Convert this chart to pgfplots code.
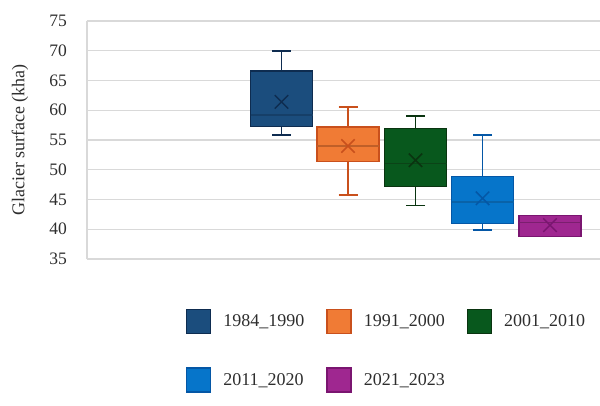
\documentclass[border=0pt]{standalone}
\usepackage{pgfplots}
\pgfplotsset{compat=1.18}
\usepgfplotslibrary{statistics}
\usepackage{fontspec}
\setmainfont{Liberation Serif}
\definecolor{fA}{HTML}{1B4D7D}\definecolor{bA}{HTML}{0E2C50}\definecolor{mA}{HTML}{163F68}
\definecolor{fB}{HTML}{F07B35}\definecolor{bB}{HTML}{C9501C}\definecolor{mB}{HTML}{BF5F28}
\definecolor{fC}{HTML}{08581D}\definecolor{bC}{HTML}{0A3410}\definecolor{mC}{HTML}{0B4317}
\definecolor{fD}{HTML}{0675CA}\definecolor{bD}{HTML}{0457A6}\definecolor{mD}{HTML}{0962A8}
\definecolor{fE}{HTML}{9F2790}\definecolor{bE}{HTML}{7A1570}\definecolor{mE}{HTML}{7A1F6E}
\definecolor{gridc}{HTML}{D9D9D9}
\definecolor{txt}{HTML}{2E2E2E}
\begin{document}
\begin{tikzpicture}[x=1pt,y=1pt]
\path[use as bounding box] (0,0) rectangle (600,405);
\begin{axis}[
  at={(87pt,146pt)}, anchor=south west,
  scale only axis, width=513pt, height=238pt,
  xmin=87, xmax=600, ymin=35, ymax=75,
  ytick={35,40,...,75}, xtick=\empty,
  axis x line=none, axis y line*=left,
  y axis line style={draw=gridc, line width=1.3pt},
  major tick length=0pt,
  ymajorgrids, grid style={draw=gridc, line width=1.3pt},
  /pgf/number format/assume math mode=true,
  font=\fontsize{18}{21}\selectfont, text=txt,
  yticklabel style={inner sep=0pt, xshift=-20pt, text=txt, font=\fontsize{17.5}{20}\selectfont},
  every axis y label/.style={at={(axis description cs:-0.1306,0.5)}, anchor=center, rotate=90, text=txt},
  ylabel={Glacier surface (kha)},
  legend image code/.code={\draw[#1] (0pt,-12pt) rectangle (24pt,12pt);},
  legend columns=3,
  legend style={draw=none, fill=none, inner sep=0pt, outer sep=0pt,
    at={(0.193,-0.210)}, anchor=north west,
    nodes={inner sep=0pt, text=txt},
    cells={anchor=west},
    row sep=33pt,
    /tikz/every odd column/.append style={column sep=12pt},
    /tikz/every even column/.append style={column sep=22pt}},
  boxplot/draw direction=y,
  boxplot/box extend=62,
  boxplot/whisker extend=19,
  boxplot/every whisker/.style={line width=1.9pt},
  boxplot/every box/.style={line width=1.5pt},
]
\addplot[forget plot, fill=fA, draw=bA, line width=1.5pt,
  boxplot prepared={lower whisker=55.9, lower quartile=57.3, median=59.2, upper quartile=66.6, upper whisker=70.0, average=61.4, draw position=281.5,
  every median/.style={draw=mA, line width=1.4pt},
  every average/.style={/tikz/mark=x, /tikz/mark size=9.5pt, /tikz/mark options={draw=mA, line width=1.4pt}}}]
  coordinates {};
\addplot[forget plot, fill=fB, draw=bB, line width=1.5pt,
  boxplot prepared={lower whisker=45.7, lower quartile=51.4, median=54.0, upper quartile=57.2, upper whisker=60.5, average=54.0, draw position=348,
  every median/.style={draw=mB, line width=1.4pt},
  every average/.style={/tikz/mark=x, /tikz/mark size=9.5pt, /tikz/mark options={draw=mB, line width=1.4pt}}}]
  coordinates {};
\addplot[forget plot, fill=fC, draw=bC, line width=1.5pt,
  boxplot prepared={lower whisker=44.0, lower quartile=47.2, median=51.1, upper quartile=56.9, upper whisker=59.0, average=51.6, draw position=415.5,
  every median/.style={draw=mC, line width=1.4pt},
  every average/.style={/tikz/mark=x, /tikz/mark size=9.5pt, /tikz/mark options={draw=mC, line width=1.4pt}}}]
  coordinates {};
\addplot[forget plot, fill=fD, draw=bD, line width=1.5pt,
  boxplot prepared={lower whisker=39.8, lower quartile=41.0, median=44.6, upper quartile=48.9, upper whisker=55.8, average=45.2, draw position=482.5,
  every median/.style={draw=mD, line width=1.4pt},
  every average/.style={/tikz/mark=x, /tikz/mark size=9.5pt, /tikz/mark options={draw=mD, line width=1.4pt}}}]
  coordinates {};
\addplot[forget plot, fill=fE, draw=bE, line width=1.5pt,
  boxplot prepared={lower whisker=38.8, lower quartile=38.8, median=41.1, upper quartile=42.3, upper whisker=42.3, average=40.7, draw position=550, whisker extend=0,
  every median/.style={draw=mE, line width=1.4pt},
  every average/.style={/tikz/mark=x, /tikz/mark size=9.5pt, /tikz/mark options={draw=mE, line width=1.4pt}}}]
  coordinates {};
\addlegendimage{fill=fA, draw=bA, line width=1.4pt}\addlegendentry{1984\_1990}
\addlegendimage{fill=fB, draw=bB, line width=1.4pt}\addlegendentry{1991\_2000}
\addlegendimage{fill=fC, draw=bC, line width=1.4pt}\addlegendentry{2001\_2010}
\addlegendimage{fill=fD, draw=bD, line width=1.4pt}\addlegendentry{2011\_2020}
\addlegendimage{fill=fE, draw=bE, line width=1.4pt}\addlegendentry{2021\_2023}
\end{axis}
\end{tikzpicture}
\end{document}
